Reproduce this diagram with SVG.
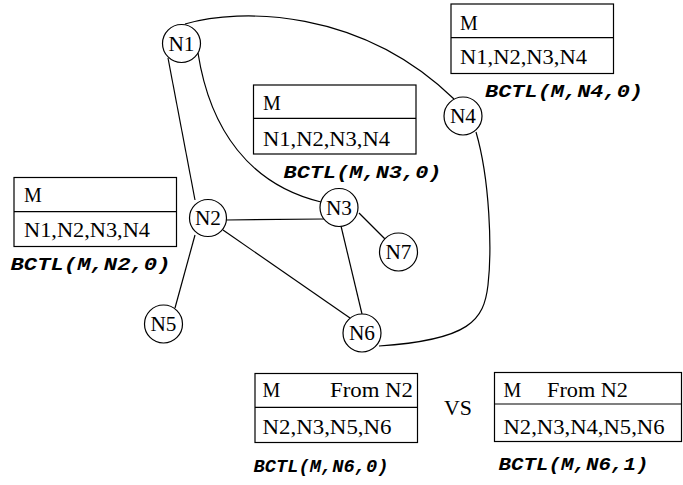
<svg xmlns="http://www.w3.org/2000/svg" width="683" height="485" viewBox="0 0 683 485">
  <style>
    .edge { fill: none; stroke: #000; stroke-width: 1.2; }
    .node circle { fill: #fff; stroke: #000; stroke-width: 1.2; }
    .node text { font-family: "Liberation Serif", "Times New Roman", serif; font-size: 20px; text-anchor: middle; }
    .box rect, .box line { fill: #fff; stroke: #000; stroke-width: 1.2; }
    .box text { font-family: "Liberation Serif", "Times New Roman", serif; font-size: 20px; }
    .call { font-family: "Liberation Mono", "Courier New", monospace; font-size: 18px; font-weight: bold; font-style: italic; }
    .vs { font-family: "Liberation Serif", "Times New Roman", serif; font-size: 21px; }
  </style>
  <rect width="683" height="485" fill="#fff"/>

  <!-- connectors -->
  <g id="connectors">
    <path class="edge" d="M185,24 C240,8 360,8 454,99"/>
    <path class="edge" d="M198,53 C210,130 250,185 321,202"/>
    <path class="edge" d="M476,132 C490,180 492,250 488,285 C484,320 470,340 379,346"/>
    <line class="edge" x1="168" y1="58" x2="195" y2="200"/>
    <line class="edge" x1="195" y1="235" x2="175" y2="308"/>
    <line class="edge" x1="226" y1="220" x2="324" y2="219"/>
    <line class="edge" x1="223" y1="230" x2="350" y2="318"/>
    <line class="edge" x1="341" y1="226" x2="362" y2="314"/>
    <line class="edge" x1="359" y1="213" x2="385" y2="239"/>
  </g>

  <!-- nodes -->
  <g id="N1" class="node"><circle cx="181.5" cy="43.5" r="19"/><text x="181.5" y="50.5" textLength="26" lengthAdjust="spacingAndGlyphs">N1</text></g>
  <g id="N2" class="node"><circle cx="208" cy="218" r="18.5"/><text x="208" y="225" textLength="26" lengthAdjust="spacingAndGlyphs">N2</text></g>
  <g id="N3" class="node"><circle cx="339" cy="207.5" r="19"/><text x="339" y="214.5" textLength="26" lengthAdjust="spacingAndGlyphs">N3</text></g>
  <g id="N4" class="node"><circle cx="463" cy="116" r="19"/><text x="463" y="123" textLength="26" lengthAdjust="spacingAndGlyphs">N4</text></g>
  <g id="N5" class="node"><circle cx="163.5" cy="324" r="19"/><text x="163.5" y="331" textLength="26" lengthAdjust="spacingAndGlyphs">N5</text></g>
  <g id="N6" class="node"><circle cx="362" cy="333" r="19"/><text x="362" y="340" textLength="26" lengthAdjust="spacingAndGlyphs">N6</text></g>
  <g id="N7" class="node"><circle cx="398.5" cy="252" r="19"/><text x="398.5" y="259" textLength="26" lengthAdjust="spacingAndGlyphs">N7</text></g>

  <!-- routing tables -->
  <g id="table-N4" class="box">
    <rect x="451" y="4" width="162.5" height="69.5"/>
    <line x1="451" y1="37.7" x2="613.5" y2="37.7"/>
    <text x="460" y="29.5">M</text>
    <text x="460" y="63.5" textLength="127" lengthAdjust="spacingAndGlyphs">N1,N2,N3,N4</text>
  </g>
  <text class="call" x="485" y="97" textLength="158" lengthAdjust="spacingAndGlyphs">BCTL(M,N4,0)</text>

  <g id="table-N3" class="box">
    <rect x="253.5" y="85" width="162.5" height="69"/>
    <line x1="253.5" y1="118.3" x2="416" y2="118.3"/>
    <text x="263" y="109.5">M</text>
    <text x="263" y="146" textLength="127" lengthAdjust="spacingAndGlyphs">N1,N2,N3,N4</text>
  </g>
  <text class="call" x="283.5" y="177.5" textLength="158" lengthAdjust="spacingAndGlyphs">BCTL(M,N3,0)</text>

  <g id="table-N2" class="box">
    <rect x="14" y="177.5" width="162.5" height="69"/>
    <line x1="14" y1="211.7" x2="176.5" y2="211.7"/>
    <text x="24" y="201.7">M</text>
    <text x="24" y="236.7" textLength="126" lengthAdjust="spacingAndGlyphs">N1,N2,N3,N4</text>
  </g>
  <text class="call" x="10.5" y="270" textLength="160" lengthAdjust="spacingAndGlyphs">BCTL(M,N2,0)</text>

  <g id="table-N6-a" class="box">
    <rect x="255" y="373.5" width="162.5" height="69"/>
    <line x1="255" y1="407.3" x2="417.5" y2="407.3"/>
    <text x="262.5" y="397">M</text>
    <text x="330" y="397" textLength="83" lengthAdjust="spacingAndGlyphs">From N2</text>
    <text x="262.5" y="434" textLength="129" lengthAdjust="spacingAndGlyphs">N2,N3,N5,N6</text>
  </g>
  <text class="call" x="253.5" y="471.5" textLength="135" lengthAdjust="spacingAndGlyphs">BCTL(M,N6,0)</text>

  <text class="vs" x="444" y="415" textLength="28" lengthAdjust="spacingAndGlyphs">VS</text>

  <g id="table-N6-b" class="box">
    <rect x="494.5" y="372.5" width="187" height="69"/>
    <line x1="494.5" y1="404" x2="681.5" y2="404"/>
    <text x="503.5" y="396.5">M</text>
    <text x="547" y="396.5" textLength="81" lengthAdjust="spacingAndGlyphs">From N2</text>
    <text x="503.5" y="433.5" textLength="161" lengthAdjust="spacingAndGlyphs">N2,N3,N4,N5,N6</text>
  </g>
  <text class="call" x="498.5" y="470" textLength="150" lengthAdjust="spacingAndGlyphs">BCTL(M,N6,1)</text>
</svg>
